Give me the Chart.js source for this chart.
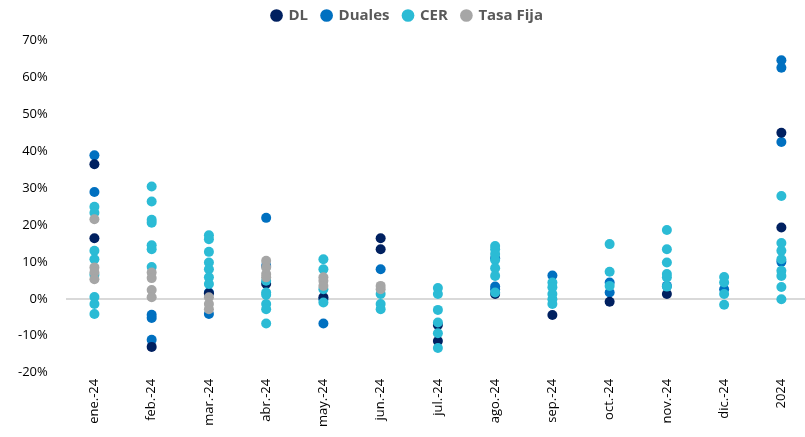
<!DOCTYPE html>
<html>
<head>
<meta charset="utf-8">
<script src="https://cdn.jsdelivr.net/npm/chart.js@4/dist/chart.umd.min.js"></script>
<style>
  html, body { margin: 0; padding: 0; background: #fff; overflow: hidden; }
  #wrap { position: relative; width: 815px; height: 437px; }
</style>
</head>
<body>
<div id="wrap"><canvas id="c"></canvas></div>
<script>
const categories = ['ene.-24','feb.-24','mar.-24','abr.-24','may.-24','jun.-24','jul.-24','ago.-24','sep.-24','oct.-24','nov.-24','dic.-24','2024'];
const yTicks = [-20, -10, 0, 10, 20, 30, 40, 50, 60, 70];

// values in %, one list per category
const dl = [
  [36.4, 16.4], [-13.0], [1.5], [4.1], [0.4], [16.4, 13.4],
  [-7.1, -11.4], [1.3], [-4.4], [-0.8], [1.3], [], [44.9, 19.3]
];
const duales = [
  [38.8, 28.9], [-4.3, -5.2, -11.1], [1.7, -4.1], [21.9, 8.9], [-0.1, -6.7], [8.0],
  [], [11.0, 3.3, 2.6], [6.3], [4.4, 1.7], [3.5], [2.6], [64.5, 62.5, 42.4, 10.0]
];
const cer = [
  [24.9, 23.3, 13.0, 10.7, 6.5, 0.5, -1.4, -4.1],
  [30.4, 26.3, 21.4, 20.6, 14.5, 13.4, 8.6],
  [17.2, 16.1, 12.7, 9.8, 8.0, 5.8, 4.0],
  [4.9, 1.7, 1.1, -1.4, -2.8, -6.7],
  [10.7, 8.0, 2.6, -1.0],
  [1.3, -1.4, -2.8],
  [2.9, 1.3, -3.0, -6.4, -9.3, -13.3],
  [14.3, 13.4, 12.1, 10.5, 8.3, 6.2, 1.7],
  [4.4, 3.1, 1.3, -0.1, -1.4],
  [14.8, 7.3, 3.5],
  [18.6, 13.4, 9.8, 6.7, 5.8, 3.3],
  [5.9, 4.4, 1.3, -1.6],
  [27.8, 15.1, 13.0, 10.7, 7.6, 6.2, 3.2, -0.1]
];
const tasaFija = [
  [21.5, 8.5, 7.1, 5.3], [7.1, 5.6, 2.4, 0.4], [0.4, -1.4, -2.8], [10.3, 8.5, 6.7, 5.8],
  [5.8, 4.9, 3.5], [3.5, 2.6], [], [], [], [], [], [], []
];

function toPoints(series) {
  const pts = [];
  series.forEach((vals, i) => vals.forEach(v => pts.push({ x: categories[i], y: v })));
  return pts;
}

const FONT = "'Open Sans', 'Noto Sans', sans-serif";

const legendGap = {
  id: 'legendGap',
  beforeInit(chart) {
    const origFit = chart.legend.fit;
    chart.legend.fit = function () {
      origFit.bind(chart.legend)();
      this.height += 7;
    };
  }
};

new Chart(document.getElementById('c'), {
  type: 'scatter',
  plugins: [legendGap],
  data: {
    labels: categories,
    datasets: [
      { label: 'DL', data: toPoints(dl), backgroundColor: '#002060', borderColor: '#002060', order: 2 },
      { label: 'Duales', data: toPoints(duales), backgroundColor: '#0070c0', borderColor: '#0070c0', order: 3 },
      { label: 'CER', data: toPoints(cer), backgroundColor: '#2bbbd5', borderColor: '#2bbbd5', order: 1 },
      { label: 'Tasa Fija', data: toPoints(tasaFija), backgroundColor: '#a6a6a6', borderColor: '#a6a6a6', order: 0 }
    ]
  },
  options: {
    responsive: true,
    maintainAspectRatio: false,
    animation: false,
    layout: { padding: { left: 0, right: 0, top: -6, bottom: 4 } },
    elements: { point: { radius: 5, borderWidth: 0, hoverRadius: 5 } },
    plugins: {
      tooltip: { enabled: false },
      legend: {
        position: 'top',
        align: 'center',
        labels: {
          usePointStyle: true,
          pointStyle: 'circle',
          boxWidth: 9,
          boxHeight: 9,
          padding: 14,
          color: '#595959',
          font: { family: FONT, size: 15, weight: 'bold' },
          sort: (a, b) => a.datasetIndex - b.datasetIndex
        }
      }
    },
    scales: {
      x: {
        type: 'category',
        labels: categories,
        offset: true,
        grid: { display: false, drawTicks: false },
        border: { display: false },
        ticks: {
          minRotation: 90, maxRotation: 90, autoSkip: false, padding: 6,
          color: '#000', font: { family: FONT, size: 13 }
        }
      },
      y: {
        min: -20, max: 70,
        afterBuildTicks: (axis) => { axis.ticks = yTicks.map(v => ({ value: v })); },
        border: { display: false },
        grid: {
          drawTicks: false,
          lineWidth: 2,
          color: (ctx) => (ctx.tick && ctx.tick.value === 0) ? '#d9d9d9' : 'rgba(0,0,0,0)'
        },
        ticks: {
          padding: 18,
          color: '#000',
          font: { family: FONT, size: 13 },
          callback: (v) => v + '%'
        }
      }
    }
  }
});
</script>
</body>
</html>
